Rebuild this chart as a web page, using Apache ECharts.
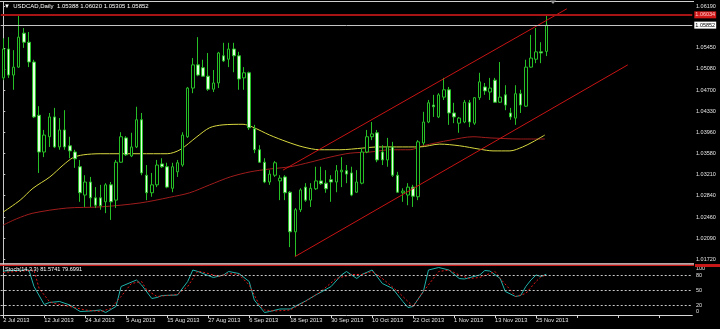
<!DOCTYPE html>
<html>
<head>
<meta charset="utf-8">
<script src="https://cdn.jsdelivr.net/npm/echarts@6/dist/echarts.min.js"></script>
<style>
html,body{margin:0;padding:0;background:#000;}
#c{width:720px;height:329px;}
</style>
</head>
<body>
<div id="c"></div>
<script>
// ---------- data ----------
const symbolName = 'USDCAD,Daily';
const julDays = '2 3 4 5 8 9 10 11 12 15 16 17 18 19 22 23 24 25 26 29 30 31';
const augDays = '1 2 5 6 7 8 9 12 13 14 15 16 19 20 21 22 23 26 27 28 29 30';
const sepDays = '2 3 4 5 6 9 10 11 12 13 16 17 18 19 20 23 24 25 26 27 30';
const octDays = '1 2 3 4 7 8 9 10 11 14 15 16 17 18 21 22 23 24 25 28 29 30 31';
const novDays = '1 4 5 6 7 8 11 12 13 14 15 18 19 20 21 22 25 26 27';
const dates = [].concat(
  julDays.split(' ').map(d => d + ' Jul 2013'),
  augDays.split(' ').map(d => d + ' Aug 2013'),
  sepDays.split(' ').map(d => d + ' Sep 2013'),
  octDays.split(' ').map(d => d + ' Oct 2013'),
  novDays.split(' ').map(d => d + ' Nov 2013')
);

const open = [1.0492,1.0543,1.0497,1.0511,1.0571,1.0555,1.0520,1.0426,1.0361,1.0388,
1.0423,1.0370,1.0400,1.0372,1.0361,1.0335,1.0285,1.0308,1.0280,1.0280,
1.0273,1.0303,1.0276,1.0343,1.0386,1.0354,1.0370,1.0418,1.0320,1.0289,
1.0303,1.0340,1.0335,1.0297,1.0326,1.0338,1.0388,1.0474,1.0515,1.0510,
1.0495,1.0472,1.0483,1.0531,1.0525,1.0543,1.0531,1.0492,1.0501,1.0402,
1.0365,1.0343,1.0308,1.0320,1.0310,1.0317,1.0290,1.0220,1.0259,1.0299,
1.0276,1.0296,1.0310,1.0306,1.0312,1.0308,1.0326,1.0328,1.0324,1.0290,
1.0306,1.0361,1.0388,1.0395,1.0361,1.0347,1.0370,1.0320,1.0289,1.0285,
1.0299,1.0282,1.0377,1.0414,1.0444,1.0423,1.0458,1.0471,1.0430,1.0412,
1.0414,1.0448,1.0412,1.0457,1.0476,1.0467,1.0488,1.0449,1.0462,1.0430,
1.0421,1.0464,1.0442,1.0511,1.0525,1.0538,1.05388];
const high = [1.0562,1.0564,1.0541,1.0603,1.0580,1.0573,1.0524,1.0442,1.0400,1.0430,
1.0439,1.0421,1.0435,1.0388,1.0365,1.0347,1.0320,1.0317,1.0299,1.0303,
1.0306,1.0308,1.0347,1.0396,1.0389,1.0395,1.0441,1.0430,1.0338,1.0324,
1.0347,1.0350,1.0342,1.0342,1.0347,1.0396,1.0476,1.0527,1.0564,1.0524,
1.0536,1.0506,1.0538,1.0554,1.0554,1.0554,1.0538,1.0511,1.0503,1.0409,
1.0373,1.0350,1.0329,1.0345,1.0320,1.0320,1.0292,1.0262,1.0297,1.0306,
1.0306,1.0335,1.0335,1.0329,1.0320,1.0338,1.0352,1.0338,1.0335,1.0329,
1.0368,1.0400,1.0414,1.0400,1.0373,1.0386,1.0379,1.0326,1.0297,1.0306,
1.0303,1.0382,1.0432,1.0453,1.0462,1.0465,1.0492,1.0476,1.0448,1.0423,
1.0453,1.0453,1.0458,1.0501,1.0483,1.0492,1.0492,1.0520,1.0479,1.0439,
1.0479,1.0471,1.0524,1.0568,1.0580,1.0555,1.06020];
const low = [1.0488,1.0492,1.0471,1.0510,1.0545,1.0511,1.0421,1.0324,1.0352,1.0370,
1.0368,1.0365,1.0365,1.0350,1.0333,1.0273,1.0264,1.0264,1.0262,1.0259,
1.0253,1.0241,1.0262,1.0342,1.0354,1.0352,1.0368,1.0320,1.0276,1.0282,
1.0299,1.0333,1.0297,1.0290,1.0317,1.0335,1.0386,1.0465,1.0495,1.0494,
1.0469,1.0467,1.0474,1.0520,1.0511,1.0502,1.0471,1.0471,1.0400,1.0359,
1.0342,1.0306,1.0303,1.0317,1.0276,1.0276,1.0193,1.0177,1.0255,1.0273,
1.0264,1.0294,1.0303,1.0289,1.0273,1.0290,1.0299,1.0306,1.0283,1.0289,
1.0304,1.0359,1.0382,1.0343,1.0338,1.0335,1.0317,1.0289,1.0273,1.0267,
1.0264,1.0276,1.0373,1.0412,1.0423,1.0421,1.0453,1.0409,1.0412,1.0395,
1.0412,1.0405,1.0409,1.0453,1.0462,1.0453,1.0448,1.0448,1.0435,1.0418,
1.0409,1.0430,1.0441,1.0510,1.0518,1.0518,1.05305];
const close = [1.0543,1.0497,1.0511,1.0564,1.0555,1.0520,1.0423,1.0361,1.0391,1.0423,
1.0370,1.0400,1.0370,1.0363,1.0349,1.0289,1.0308,1.0280,1.0267,1.0266,
1.0303,1.0273,1.0343,1.0388,1.0356,1.0370,1.0418,1.0324,1.0289,1.0303,
1.0338,1.0335,1.0299,1.0335,1.0342,1.0391,1.0474,1.0515,1.0497,1.0495,
1.0472,1.0483,1.0536,1.0522,1.0543,1.0531,1.0490,1.0501,1.0404,1.0365,
1.0343,1.0308,1.0322,1.0342,1.0315,1.0289,1.0220,1.0259,1.0294,1.0276,
1.0297,1.0310,1.0305,1.0296,1.0308,1.0328,1.0329,1.0322,1.0285,1.0308,
1.0361,1.0388,1.0393,1.0347,1.0347,1.0370,1.0320,1.0290,1.0292,1.0299,
1.0283,1.0379,1.0414,1.0448,1.0441,1.0462,1.0471,1.0430,1.0423,1.0421,
1.0449,1.0414,1.0457,1.0485,1.0469,1.0474,1.0449,1.0458,1.0444,1.0423,
1.0464,1.0444,1.0511,1.0527,1.0538,1.0536,1.05852];

// moving averages: [bar position, price]
const yellowMA = [[0,1.0255],[3.3,1.0276],[5.8,1.0297],[9.1,1.0317],[11.7,1.0338],[13.6,1.0351],[15.6,1.0356],[18.9,1.0358],[26.7,1.0358],[32,1.0358],[34.5,1.0365],[37.8,1.0388],[40.3,1.0404],[42.9,1.0409],[46.8,1.0410],[48.7,1.0405],[52,1.0391],[55.4,1.0379],[58.5,1.0370],[61.8,1.0365],[65.7,1.0365],[70.2,1.0368],[72.9,1.0370],[76.8,1.0370],[81.3,1.0370],[85.2,1.0375],[89.1,1.0372],[93,1.0366],[95.6,1.0363],[98.9,1.0363],[101.4,1.0370],[103.4,1.0379],[105.7,1.0391]];
const redMA = [[0,1.0232],[2.6,1.0243],[5.8,1.0253],[12.4,1.0262],[18.9,1.0264],[26.7,1.0271],[32.5,1.0281],[36.4,1.0289],[40.3,1.0303],[44.3,1.0317],[48.2,1.0326],[52,1.0331],[56,1.0335],[59.9,1.0343],[63.8,1.0352],[67.7,1.0359],[71.6,1.0361],[75.5,1.0365],[79.4,1.0365],[81.9,1.0372],[87.2,1.0382],[91.7,1.0388],[95,1.0386],[100.9,1.0384],[105.7,1.0384]];
const channelUpper = [[54.6,1.0329],[110.0,1.0614]];
const channelLower = [[56.9,1.0176],[121.9,1.0515]];
const resistanceLevel = 1.06034;

const priceTicks = ['1.01720','1.02090','1.02460','1.02840','1.03210','1.03580','1.03960','1.04330','1.04700','1.05080','1.05450','1.06190'];

const stochParams = '14,3,3';
const stochK = [[0,88],[5,90],[6,57],[8,21],[9,25],[11,27],[13,20],[15,7],[17,8],[19,10],[20,5],[22,17],[23,57],[26,70],[27,60],[29,33],[30,35],[31,39],[34,40],[36,67],[37,90],[38,87],[40,79],[41,75],[43,80],[44,87],[46,83],[48,67],[49,30],[51,5],[52,7],[54,12],[56,12],[59,28],[61,40],[64,57],[66,80],[67,87],[69,73],[70,81],[72,90],[74,63],[76,53],[78,27],[79,15],[80,17],[82,47],[83,90],[85,95],[87,90],[89,73],[90,72],[93,80],[94,89],[95,88],[97,73],[98,47],[100,37],[101,39],[102,57],[103,70],[104,80],[105,77],[106,81.5741]];
const stochD = [[0,85],[6,90],[7,53],[9,27],[10,23],[13,17],[16,10],[19,7],[21,13],[23,37],[25,63],[27,67],[28,50],[30,37],[32,39],[34,41],[36,57],[38,88],[40,83],[42,77],[44,83],[46,81],[48,60],[50,20],[51,10],[53,8],[56,10],[59,27],[62,47],[65,73],[68,81],[70,81],[72,87],[74,73],[77,47],[79,27],[80,17],[82,47],[85,87],[87,90],[89,80],[91,73],[93,75],[96,87],[97,73],[99,50],[100,37],[102,43],[104,67],[105,77],[106,79.6991]];
const stochLevels = [20, 50, 80];
const stochTicks = [0, 20, 50, 80, 100];

// ---------- chart ----------
const N = 135; // bar slots including right-side shift space
const cats = dates.concat(Array.from({length: N - dates.length}, () => ''));
const candles = open.map((o, i) => [o, close[i], low[i], high[i]]);
const last = open.length - 1;
const f5 = v => Number(v).toFixed(5);
const FONT = 'Liberation Sans, Arial, sans-serif';
const TXT = '#e4e4e4';

const chart = echarts.init(document.getElementById('c'), null, {renderer: 'canvas', width: 720, height: 329});

const levelLabel = (bg, fg, txt) => ({show: true, position: 'end', distance: 2, formatter: () => txt,
  backgroundColor: bg, color: fg, fontSize: 5.5, fontFamily: FONT, padding: [1, 1, 0, 1], lineHeight: 6});

const option = {
  backgroundColor: '#000000',
  animation: false,
  grid: [
    {left: 0.7, width: 691.6, top: 2, height: 262},
    {left: 0.7, width: 691.6, top: 265, height: 50}
  ],
  xAxis: [
    {type: 'category', gridIndex: 0, data: cats, show: false},
    {type: 'value', gridIndex: 0, min: -0.5, max: N - 0.5, show: false},
    {type: 'category', gridIndex: 1, data: cats,
      axisLine: {show: true, lineStyle: {color: '#d8d8d8', width: 1}},
      axisTick: {show: true, interval: 7, alignWithLabel: true, length: 3, lineStyle: {color: '#d8d8d8'}},
      axisLabel: {interval: 7, align: 'left', color: TXT, fontSize: 5.7, fontFamily: FONT, margin: 2},
      splitLine: {show: false}},
    {type: 'value', gridIndex: 1, min: -0.5, max: N - 0.5, show: false}
  ],
  yAxis: [
    {type: 'value', gridIndex: 0, position: 'right', offset: 1.7,
      min: 1.0163166, max: 1.0626067,
      splitLine: {show: false},
      axisLine: {show: true, lineStyle: {color: '#c8c8c8'}},
      axisTick: {show: true, length: 2, customValues: priceTicks.map(Number), lineStyle: {color: '#c8c8c8'}},
      axisLabel: {customValues: priceTicks.map(Number), formatter: f5, color: TXT, fontSize: 5.5, fontFamily: FONT, margin: 2}},
    {type: 'value', gridIndex: 1, position: 'right', offset: 1.7, min: 0, max: 100,
      splitLine: {show: false},
      axisLine: {show: true, lineStyle: {color: '#c8c8c8'}},
      axisTick: {show: true, length: 2, customValues: stochTicks, lineStyle: {color: '#c8c8c8'}},
      axisLabel: {customValues: stochTicks, color: TXT, fontSize: 5.5, fontFamily: FONT, margin: 2,
        formatter: v => v === 100 ? '{t|100}' : (v === 0 ? '{b|0}' : String(v)),
        rich: {
          t: {padding: [7, 0, 0, 0], color: TXT, fontSize: 5.5, fontFamily: FONT},
          b: {padding: [0, 0, 7, 0], color: TXT, fontSize: 5.5, fontFamily: FONT}
        }}}
  ],
  series: [
    {type: 'line', name: 'MA slow', xAxisIndex: 1, yAxisIndex: 0, data: redMA, showSymbol: false, smooth: 0.3,
      lineStyle: {color: '#a01c1c', width: 1}, z: 1},
    {type: 'line', name: 'MA fast', xAxisIndex: 1, yAxisIndex: 0, data: yellowMA, showSymbol: false, smooth: 0.3,
      lineStyle: {color: '#d8d840', width: 1}, z: 1},
    {type: 'candlestick', name: symbolName, xAxisIndex: 0, yAxisIndex: 0, data: candles, barWidth: 3, z: 3,
      itemStyle: {color: '#000000', color0: '#e4ffe0', borderColor: '#26c026', borderColor0: '#26c026', borderWidth: 1}},
    {type: 'line', name: 'channel upper', xAxisIndex: 1, yAxisIndex: 0, data: channelUpper, showSymbol: false,
      lineStyle: {color: '#c81414', width: 1}, z: 4,
      markLine: {silent: true, symbol: ['none', 'none'], animation: false, precision: 5,
        data: [
          {yAxis: resistanceLevel, lineStyle: {color: '#a81414', width: 2, type: 'solid'}, label: levelLabel('#d01818', '#ffc8c8', f5(resistanceLevel))},
          {yAxis: close[last], lineStyle: {color: '#c4c4c4', width: 1, type: 'solid'}, label: levelLabel('#ffffff', '#000000', f5(close[last]))}
        ]}},
    {type: 'line', name: 'channel lower', xAxisIndex: 1, yAxisIndex: 0, data: channelLower, showSymbol: false,
      lineStyle: {color: '#c81414', width: 1}, z: 4},
    {type: 'line', name: 'Stoch main', xAxisIndex: 3, yAxisIndex: 1, data: stochK, showSymbol: false,
      lineStyle: {color: '#20b2aa', width: 1}, z: 3,
      markLine: {silent: true, symbol: ['none', 'none'], animation: false, label: {show: false},
        lineStyle: {color: '#c8c8c8', width: 1, type: [2, 2]},
        data: stochLevels.map(v => ({yAxis: v}))}},
    {type: 'line', name: 'Stoch signal', xAxisIndex: 3, yAxisIndex: 1, data: stochD, showSymbol: false,
      lineStyle: {color: '#e01818', width: 1, type: [2, 2]}, z: 3}
  ],
  graphic: [
    {type: 'line', shape: {x1: 0, y1: 1.5, x2: 694, y2: 1.5}, style: {stroke: '#d0d0d0', lineWidth: 1}, z: 10},
    {type: 'rect', shape: {x: 0, y: 263.3, width: 694, height: 1.4}, style: {fill: '#f2dede'}, z: 10},
    {type: 'rect', shape: {x: 0, y: 264.7, width: 694, height: 1.2}, style: {fill: '#c81818'}, z: 10},
    {type: 'rect', shape: {x: 695, y: 264, width: 25, height: 3}, style: {fill: '#c81818'}, z: 10},
    {type: 'polygon', shape: {points: [[550, 0.5], [556, 0.5], [553, 4]]}, style: {fill: '#9a9a9a'}, z: 10},
    {type: 'text', x: 4, y: 6, z: 10,
      style: {text: '\u25BC  ' + symbolName + '  ' + [open[last], high[last], low[last], close[last]].map(f5).join(' '),
        fill: '#ffffff', font: '6px ' + FONT, verticalAlign: 'middle'}},
    {type: 'text', x: 5, y: 269.5, z: 10,
      style: {text: 'Stoch(' + stochParams + ') ' + stochK[stochK.length - 1][1].toFixed(4) + ' ' + stochD[stochD.length - 1][1].toFixed(4),
        fill: '#ffffff', font: '5.6px ' + FONT, verticalAlign: 'middle'}}
  ]
};
chart.setOption(option);
</script>
</body>
</html>
